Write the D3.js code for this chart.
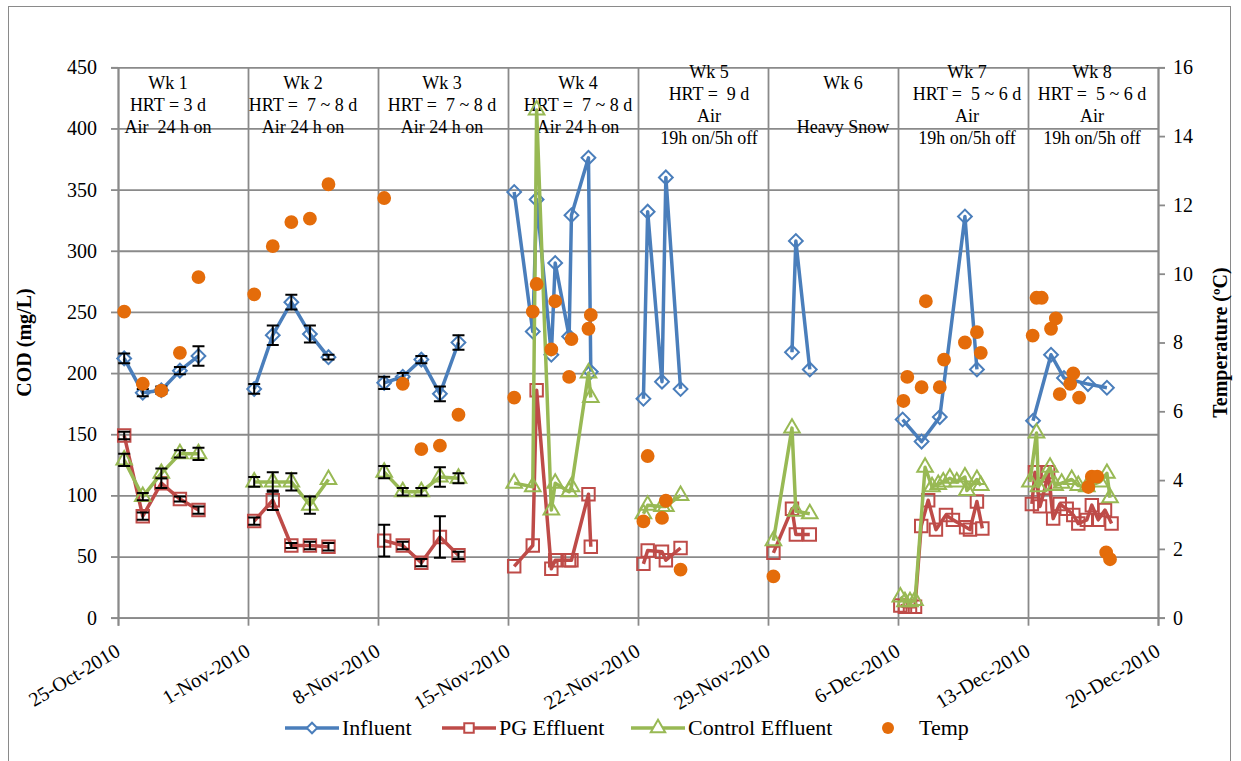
<!DOCTYPE html>
<html>
<head>
<meta charset="utf-8">
<script src="https://cdn.jsdelivr.net/npm/d3@7/dist/d3.min.js"></script>
<style>
    body { margin: 0; background: #fff; }
    svg text { font-family: "Liberation Serif", "Times New Roman", serif; }
</style>
</head>
<body>
<svg id="chart" width="1241" height="761"></svg>
<script>
// ---- data ----
// [date time, value, error bar half-height]
const influent = [
    ["2010-10-25 08:00", 212, 4], ["2010-10-26 08:00", 184, 3], ["2010-10-27 08:00", 186, 3],
    ["2010-10-28 08:00", 202, 3], ["2010-10-29 08:00", 214, 8],
    ["2010-11-01 08:00", 187, 4], ["2010-11-02 08:00", 231, 8], ["2010-11-03 08:00", 258, 6],
    ["2010-11-04 08:00", 232, 7], ["2010-11-05 08:00", 213, 2],
    ["2010-11-08 08:00", 192, 5], ["2010-11-09 08:00", 197, 3], ["2010-11-10 08:00", 211, 3],
    ["2010-11-11 08:00", 183, 6], ["2010-11-12 08:00", 225, 6],
    ["2010-11-15 08:00", 348], ["2010-11-16 08:00", 234], ["2010-11-16 13:00", 342],
    ["2010-11-17 08:00", 215], ["2010-11-17 13:00", 290], ["2010-11-18 07:00", 230],
    ["2010-11-18 10:00", 329], ["2010-11-19 08:00", 376], ["2010-11-19 11:00", 201],
    ["2010-11-22 07:00", 179], ["2010-11-22 12:30", 332], ["2010-11-23 07:00", 193],
    ["2010-11-23 12:00", 360], ["2010-11-24 07:00", 187],
    ["2010-11-30 07:00", 217], ["2010-11-30 12:00", 308], ["2010-12-01 06:00", 203],
    ["2010-12-06 06:00", 162], ["2010-12-07 06:30", 144], ["2010-12-08 06:00", 164],
    ["2010-12-09 14:30", 328], ["2010-12-10 06:00", 203],
    ["2010-12-13 06:30", 161], ["2010-12-14 05:45", 215], ["2010-12-14 22:30", 196],
    ["2010-12-16 05:30", 191], ["2010-12-17 06:00", 188]
];

const pgEffluent = [
    ["2010-10-25 08:00", 149, 3], ["2010-10-26 08:00", 83, 3], ["2010-10-27 08:00", 110, 4],
    ["2010-10-28 08:00", 97, 2], ["2010-10-29 08:00", 88, 3],
    ["2010-11-01 08:00", 79, 3], ["2010-11-02 08:00", 96, 8], ["2010-11-03 08:00", 59, 2],
    ["2010-11-04 08:00", 59, 3], ["2010-11-05 08:00", 58, 3],
    ["2010-11-08 08:00", 63, 13], ["2010-11-09 08:00", 59, 3], ["2010-11-10 08:00", 45, 3],
    ["2010-11-11 08:00", 66, 17], ["2010-11-12 08:00", 51, 3],
    ["2010-11-15 08:00", 42], ["2010-11-16 08:00", 59], ["2010-11-16 13:00", 186],
    ["2010-11-17 08:00", 40], ["2010-11-17 13:00", 47], ["2010-11-18 07:00", 47],
    ["2010-11-18 10:00", 47], ["2010-11-19 08:00", 101], ["2010-11-19 11:00", 58],
    ["2010-11-22 07:00", 44], ["2010-11-22 12:30", 55], ["2010-11-23 07:00", 54],
    ["2010-11-23 12:00", 47], ["2010-11-24 07:00", 57],
    ["2010-11-29 07:00", 53], ["2010-11-30 07:00", 89], ["2010-11-30 12:00", 68],
    ["2010-12-01 06:00", 68],
    ["2010-12-06 03:00", 10], ["2010-12-06 09:00", 9], ["2010-12-06 15:30", 9],
    ["2010-12-06 22:00", 9], ["2010-12-07 06:00", 75], ["2010-12-07 15:00", 96],
    ["2010-12-08 01:00", 72], ["2010-12-08 14:00", 84], ["2010-12-08 23:00", 80],
    ["2010-12-09 16:00", 74], ["2010-12-09 21:00", 72], ["2010-12-10 06:00", 95],
    ["2010-12-10 13:00", 73],
    ["2010-12-13 05:00", 93], ["2010-12-13 09:00", 119], ["2010-12-13 15:30", 91],
    ["2010-12-13 22:00", 106], ["2010-12-14 02:00", 119], ["2010-12-14 08:30", 81],
    ["2010-12-14 17:00", 93], ["2010-12-15 02:00", 89], ["2010-12-15 10:30", 84],
    ["2010-12-15 17:00", 77], ["2010-12-16 04:00", 80], ["2010-12-16 10:30", 92],
    ["2010-12-16 18:45", 80], ["2010-12-17 03:30", 88], ["2010-12-17 12:00", 77]
];

const controlEffluent = [
    ["2010-10-25 08:00", 129, 5], ["2010-10-26 08:00", 99, 3], ["2010-10-27 08:00", 118, 4],
    ["2010-10-28 08:00", 134, 3], ["2010-10-29 08:00", 134, 5],
    ["2010-11-01 08:00", 111, 4], ["2010-11-02 08:00", 111, 8], ["2010-11-03 08:00", 111, 7],
    ["2010-11-04 08:00", 92, 7], ["2010-11-05 08:00", 113, 0],
    ["2010-11-08 08:00", 119, 5], ["2010-11-09 08:00", 103, 3], ["2010-11-10 08:00", 103, 3],
    ["2010-11-11 08:00", 115, 8], ["2010-11-12 08:00", 114, 4],
    ["2010-11-15 08:00", 110], ["2010-11-16 08:00", 107], ["2010-11-16 13:00", 415],
    ["2010-11-17 08:00", 88], ["2010-11-17 13:00", 110], ["2010-11-18 07:00", 103],
    ["2010-11-18 10:00", 107], ["2010-11-19 08:00", 200], ["2010-11-19 11:00", 180],
    ["2010-11-22 07:00", 85], ["2010-11-22 12:30", 92], ["2010-11-23 07:00", 91],
    ["2010-11-23 12:00", 91], ["2010-11-24 07:00", 100],
    ["2010-11-29 07:00", 63], ["2010-11-30 07:00", 155], ["2010-11-30 12:00", 87],
    ["2010-12-01 06:00", 85],
    ["2010-12-06 03:00", 17], ["2010-12-06 09:00", 13], ["2010-12-06 15:30", 13],
    ["2010-12-06 22:00", 14], ["2010-12-07 11:00", 123], ["2010-12-07 20:00", 107],
    ["2010-12-08 04:00", 109], ["2010-12-08 10:30", 111], ["2010-12-08 19:00", 114],
    ["2010-12-09 04:00", 111], ["2010-12-09 14:30", 115], ["2010-12-09 17:00", 104],
    ["2010-12-10 06:00", 113], ["2010-12-10 11:00", 108],
    ["2010-12-13 02:30", 111], ["2010-12-13 11:00", 151], ["2010-12-13 13:30", 107],
    ["2010-12-14 04:30", 123], ["2010-12-14 11:00", 108], ["2010-12-14 19:30", 110],
    ["2010-12-15 08:30", 113], ["2010-12-15 17:00", 108], ["2010-12-16 04:00", 107],
    ["2010-12-16 21:00", 111], ["2010-12-17 06:00", 118], ["2010-12-17 10:00", 98]
];

// temperature, right axis
const temperature = [
    ["2010-10-25 08:00", 8.9], ["2010-10-26 08:00", 6.8], ["2010-10-27 08:00", 6.6],
    ["2010-10-28 08:00", 7.7], ["2010-10-29 08:00", 9.9],
    ["2010-11-01 08:00", 9.4], ["2010-11-02 08:00", 10.8], ["2010-11-03 08:00", 11.5],
    ["2010-11-04 08:00", 11.6], ["2010-11-05 08:00", 12.6],
    ["2010-11-08 08:00", 12.2], ["2010-11-09 08:00", 6.8], ["2010-11-10 08:00", 4.9],
    ["2010-11-11 08:00", 5.0], ["2010-11-12 08:00", 5.9],
    ["2010-11-15 08:00", 6.4], ["2010-11-16 08:00", 8.9], ["2010-11-16 13:00", 9.7],
    ["2010-11-17 08:00", 7.8], ["2010-11-17 13:00", 9.2], ["2010-11-18 07:00", 7.0],
    ["2010-11-18 10:00", 8.1], ["2010-11-19 08:00", 8.4], ["2010-11-19 11:00", 8.8],
    ["2010-11-22 07:00", 2.8], ["2010-11-22 12:30", 4.7], ["2010-11-23 07:00", 2.9],
    ["2010-11-23 12:00", 3.4], ["2010-11-24 07:00", 1.4],
    ["2010-11-29 07:00", 1.2],
    ["2010-12-06 07:00", 6.3], ["2010-12-06 12:00", 7.0], ["2010-12-07 06:30", 6.7],
    ["2010-12-07 12:00", 9.2], ["2010-12-08 06:00", 6.7], ["2010-12-08 11:30", 7.5],
    ["2010-12-09 14:30", 8.0], ["2010-12-10 06:00", 8.3], ["2010-12-10 11:00", 7.7],
    ["2010-12-13 06:00", 8.2], ["2010-12-13 11:00", 9.3], ["2010-12-13 17:45", 9.3],
    ["2010-12-14 05:45", 8.4], ["2010-12-14 12:00", 8.7], ["2010-12-14 17:00", 6.5],
    ["2010-12-15 06:30", 6.8], ["2010-12-15 10:30", 7.1], ["2010-12-15 18:00", 6.4],
    ["2010-12-16 06:00", 3.8], ["2010-12-16 10:30", 4.1], ["2010-12-16 17:30", 4.1],
    ["2010-12-17 05:00", 1.9], ["2010-12-17 10:00", 1.7]
];

const dateTicks = ["2010-10-25", "2010-11-01", "2010-11-08", "2010-11-15", "2010-11-22",
                   "2010-11-29", "2010-12-06", "2010-12-13", "2010-12-20"];
const codTicks = [0, 50, 100, 150, 200, 250, 300, 350, 400, 450];
const tempTicks = [0, 2, 4, 6, 8, 10, 12, 14, 16];

const weekNotes = [
    ["Wk 1", "HRT = 3 d", "Air  24 h on"],
    ["Wk 2", "HRT =  7 ~ 8 d", "Air 24 h on"],
    ["Wk 3", "HRT =  7 ~ 8 d", "Air 24 h on"],
    ["Wk 4", "HRT =  7 ~ 8 d", "Air 24 h on"],
    ["Wk 5", "HRT =  9 d", "Air", "19h on/5h off"],
    ["Wk 6", "", "Heavy Snow"],
    ["Wk 7", "HRT =  5 ~ 6 d", "Air", "19h on/5h off"],
    ["Wk 8", "HRT =  5 ~ 6 d", "Air", "19h on/5h off"]
];

const seriesNames = ["Influent", "PG Effluent", "Control Effluent", "Temp"];

// ---- layout ----
const svg = d3.select("#chart");
const serif = "Liberation Serif, Times New Roman, serif";
const margin = { left: 118, right: 1158, top: 67.3, bottom: 617.7 };
const colors = { Influent: "#4a7ebb", "PG Effluent": "#be4b48", "Control Effluent": "#98b954", Temp: "#e46c0a" };
const grid = "#8a8a8a";
const parseTime = d3.utcParse("%Y-%m-%d %H:%M");
const parseDay = d3.utcParse("%Y-%m-%d");
const fmtDay = d3.utcFormat("%-d-%b-%Y");

const x = d3.scaleUtc()
    .domain([parseDay(dateTicks[0]), parseDay(dateTicks[dateTicks.length - 1])])
    .range([margin.left, margin.right]);
const y = d3.scaleLinear().domain([0, 450]).range([margin.bottom, margin.top]);
const yT = d3.scaleLinear().domain([0, 16]).range([margin.bottom, margin.top]);

// outer frame
svg.append("rect")
    .attr("x", 8.5).attr("y", 6.5).attr("width", 1222).attr("height", 760)
    .attr("fill", "none").attr("stroke", "#8a8a8a").attr("stroke-width", 1);

const plotH = margin.bottom - margin.top;
const plotW = margin.right - margin.left;

// horizontal gridlines + left axis
const gLeft = svg.append("g").attr("transform", `translate(${margin.left},0)`)
    .call(d3.axisLeft(y).tickValues(codTicks).tickSize(7).tickPadding(14))
    .attr("font-family", serif).attr("font-size", 20);
gLeft.selectAll(".tick line").clone().attr("x2", plotW);
gLeft.selectAll("line, path").attr("stroke", grid).attr("stroke-width", 1.8);
gLeft.selectAll("text").attr("fill", "#000");

// vertical gridlines + bottom axis
const dates = dateTicks.map(parseDay);
const gBottom = svg.append("g").attr("transform", `translate(0,${margin.bottom})`)
    .call(d3.axisBottom(x).tickValues(dates).tickSize(8).tickFormat(""))
    .attr("font-family", serif).attr("font-size", 20);
gBottom.selectAll(".tick line").clone().attr("y2", -plotH);
gBottom.selectAll("line, path").attr("stroke", grid).attr("stroke-width", 1.8);
gBottom.selectAll(".tick").append("text")
    .attr("transform", "translate(3,37) rotate(-31)")
    .attr("text-anchor", "end")
    .attr("fill", "#000")
    .text(d => fmtDay(d));

// right axis
const gRight = svg.append("g").attr("transform", `translate(${margin.right},0)`)
    .call(d3.axisRight(yT).tickValues(tempTicks).tickSize(7).tickPadding(8))
    .attr("font-family", serif).attr("font-size", 20);
gRight.selectAll("line, path").attr("stroke", grid).attr("stroke-width", 1.8);
gRight.selectAll("text").attr("fill", "#000");

// axis titles
svg.append("text")
    .attr("transform", `translate(31,${(margin.top + margin.bottom) / 2}) rotate(-90)`)
    .attr("text-anchor", "middle").attr("font-weight", "bold").attr("font-size", 20)
    .attr("font-family", serif)
    .text("COD (mg/L)");
svg.append("text")
    .attr("transform", `translate(1227,${(margin.top + margin.bottom) / 2}) rotate(-90)`)
    .attr("text-anchor", "middle").attr("font-weight", "bold").attr("font-size", 20)
    .attr("font-family", serif)
    .text("Temperature (ºC)");

// week notes
const noteShift = [-15, -10, -1, 5, 6, 10, 4, -1];
weekNotes.forEach((lines, i) => {
    const cx = (x(dates[i]) + x(dates[i + 1])) / 2 + noteShift[i];
    const t = svg.append("text").attr("font-size", 18).attr("text-anchor", "middle")
        .attr("font-family", serif)
        .style("white-space", "pre");
    lines.forEach((s, j) => {
        t.append("tspan").attr("x", cx)
            .attr("y", 105 + (j - (lines.length - 1) / 2) * 21.7 + 6)
            .text(s);
    });
});

// ---- series ----
const weekOf = d => Math.floor((d - dates[0]) / (7 * 864e5));

function symbolPath(kind, size) {
    if (kind === "diamond" || kind === "square") return d3.symbol(d3.symbolSquare, size)();
    if (kind === "triangle") return d3.symbol(d3.symbolTriangle, size)();
    return d3.symbol(d3.symbolCircle, size)();
}
function markerTransform(kind) { return kind === "diamond" ? " rotate(45)" : ""; }

function drawSeries(raw, name, kind, yScale, withLine) {
    const data = raw.map(r => ({ t: parseTime(r[0]), v: r[1], e: r[2] }));
    const g = svg.append("g");
    const col = colors[name];
    if (withLine) {
        const line = d3.line().x(d => x(d.t)).y(d => yScale(d.v));
        const groups = d3.groups(data, d => weekOf(d.t));
        g.selectAll("path.line").data(groups).join("path")
            .attr("class", "line")
            .attr("d", d => line(d[1]))
            .attr("fill", "none").attr("stroke", col).attr("stroke-width", 3.5)
            .attr("stroke-linejoin", "round");
    }
    const size = kind === "diamond" ? 95 : kind === "square" ? 155 : kind === "triangle" ? 105 : 150;
    g.selectAll("path.mark").data(data).join("path")
        .attr("class", "mark")
        .attr("transform", d => `translate(${x(d.t)},${yScale(d.v)})` + markerTransform(kind))
        .attr("d", symbolPath(kind, size))
        .attr("fill", kind === "circle" ? col : "none")
        .attr("stroke", kind === "circle" ? "none" : col)
        .attr("stroke-width", 2);
    // error bars
    const cap = 6;
    data.filter(d => d.e).forEach(d => {
        const cx = x(d.t), y1 = yScale(d.v - d.e), y2 = yScale(d.v + d.e);
        g.append("path")
            .attr("d", `M${cx},${y1}V${y2}M${cx - cap},${y1}H${cx + cap}M${cx - cap},${y2}H${cx + cap}`)
            .attr("stroke", "#000").attr("stroke-width", 2).attr("fill", "none");
    });
}

drawSeries(influent, "Influent", "diamond", y, true);
drawSeries(pgEffluent, "PG Effluent", "square", y, true);
drawSeries(controlEffluent, "Control Effluent", "triangle", y, true);
drawSeries(temperature, "Temp", "circle", yT, false);

// ---- legend ----
const legendKinds = ["diamond", "square", "triangle", "circle"];
const legendX = [285, 442, 631, 888];
const legendY = 728;
seriesNames.forEach((name, i) => {
    const g = svg.append("g").attr("transform", `translate(${legendX[i]},${legendY})`);
    const col = colors[name];
    let tx = 57;
    if (legendKinds[i] !== "circle") {
        g.append("line").attr("x1", 0).attr("x2", 54).attr("stroke", col).attr("stroke-width", 3.5);
        g.append("path").attr("transform", "translate(27,0)" + markerTransform(legendKinds[i]))
            .attr("d", symbolPath(legendKinds[i], legendKinds[i] === "diamond" ? 55 : 90))
            .attr("fill", "#fff").attr("stroke", col).attr("stroke-width", 2);
    } else {
        g.append("circle").attr("r", 6).attr("fill", col);
        tx = 31;
    }
    g.append("text").attr("x", tx).attr("y", 7).attr("font-size", 22)
        .attr("font-family", serif).text(name);
});
</script>
</body>
</html>
